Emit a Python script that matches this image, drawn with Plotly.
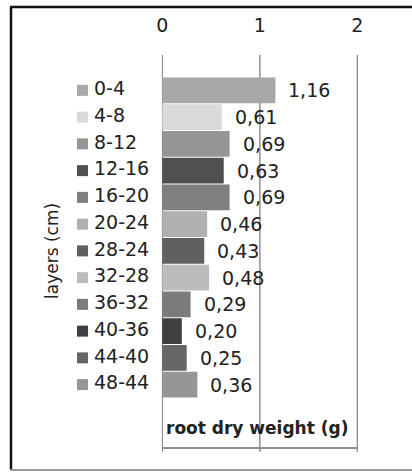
import plotly.graph_objects as go

layers = ["0-4", "4-8", "8-12", "12-16", "16-20", "20-24", "28-24", "32-28",
          "36-32", "40-36", "44-40", "48-44"]
weights = [1.16, 0.61, 0.69, 0.63, 0.69, 0.46, 0.43, 0.48, 0.29, 0.20, 0.25, 0.36]
bar_colors = ["#a8a8a8", "#dadada", "#959595", "#505050", "#7f7f7f", "#b0b0b0",
              "#606060", "#bcbcbc", "#7b7b7b", "#3f3f3f", "#666666", "#969696"]
x_ticks = [0, 1, 2]
x_title = "root dry weight (g)"
y_title = "layers (cm)"

W, H = 412, 472
FONT = "DejaVu Sans"
TXT = "#222222"
GRID = "#8f8f8f"
XR = [-0.006, 2.006]

def px(x):
    return x / W

def py(y):
    return 1 - y / H

fig = go.Figure()

fig.add_trace(go.Bar(
    x=weights, y=layers, orientation="h",
    marker=dict(color=bar_colors, line=dict(width=0)),
    width=0.97, xaxis="x", yaxis="y", showlegend=False, hoverinfo="x+y",
))

# invisible trace so the bottom axis is drawn
fig.add_trace(go.Scatter(
    x=[x_ticks[0]], y=[layers[0]], mode="markers", marker=dict(opacity=0),
    xaxis="x2", yaxis="y", showlegend=False, hoverinfo="skip",
))

# legend-like colored squares and labels
fig.add_trace(go.Scatter(
    x=[82.5] * len(layers), y=layers, mode="markers",
    marker=dict(symbol="square", size=11, color=bar_colors, line=dict(width=0)),
    xaxis="x3", yaxis="y", showlegend=False, hoverinfo="skip",
))
fig.add_trace(go.Scatter(
    x=[94] * len(layers), y=layers, mode="text", text=layers,
    textposition="middle right", textfont=dict(family=FONT, size=19, color=TXT),
    xaxis="x3", yaxis="y", showlegend=False, hoverinfo="skip",
))

# data labels
for lay, v in zip(layers, weights):
    fig.add_annotation(
        x=v, y=lay, xref="x", yref="y", text=f"{v:.2f}".replace(".", ","),
        showarrow=False, xanchor="left", yanchor="middle", xshift=11,
        font=dict(family=FONT, size=19, color=TXT),
    )

# vertical gridlines at the tick values (extend below the bottom axis line)
for t in x_ticks:
    fig.add_shape(type="line", xref="x", yref="paper", x0=t, x1=t,
                  y0=py(452), y1=py(55), layer="below",
                  line=dict(color=GRID, width=1.5))

fig.add_annotation(x=px(256.5), y=py(428), xref="paper", yref="paper",
                   text=f"<b>{x_title}</b>", showarrow=False, yanchor="middle",
                   font=dict(family=FONT, size=17, color=TXT))
fig.add_annotation(x=px(40), y=py(251), xref="paper", yref="paper",
                   text=y_title, textangle=-90, showarrow=False,
                   font=dict(family=FONT, size=17, color=TXT))

# outer frame
fig.add_shape(type="line", xref="paper", yref="paper", x0=px(11), x1=px(11),
              y0=py(470), y1=py(7), line=dict(color="#111111", width=2.5))
fig.add_shape(type="line", xref="paper", yref="paper", x0=px(10), x1=1,
              y0=py(7), y1=py(7), line=dict(color="#111111", width=2.5))
fig.add_shape(type="line", xref="paper", yref="paper", x0=px(10), x1=1,
              y0=py(470), y1=py(470), line=dict(color="#9a9a9a", width=2))

n = len(layers)
fig.update_layout(
    width=W, height=H, autosize=False,
    margin=dict(l=0, r=0, t=0, b=0, pad=0, autoexpand=False),
    paper_bgcolor="white", plot_bgcolor="rgba(0,0,0,0)",
    font=dict(family=FONT, size=19, color=TXT),
    xaxis=dict(domain=[px(161.7), px(358)], range=XR, side="top",
               tickvals=x_ticks, ticktext=[str(t) for t in x_ticks],
               showgrid=False, zeroline=False, showline=False, ticks="",
               ticklabelstandoff=18, anchor="y", automargin=False,
               tickfont=dict(family=FONT, size=19, color=TXT), fixedrange=True),
    xaxis2=dict(overlaying="x", range=XR, side="bottom", anchor="y",
                showline=True, linecolor=GRID, linewidth=1.5,
                ticks="", showticklabels=False, showgrid=False,
                zeroline=False, automargin=False, fixedrange=True),
    xaxis3=dict(domain=[px(60), px(160)], range=[60, 160], anchor="y",
                visible=False, fixedrange=True),
    yaxis=dict(domain=[py(447), py(55)], type="category",
               categoryorder="array", categoryarray=layers,
               range=[n - 0.5 + 1.832, -0.5 - 0.822],
               showticklabels=False, showgrid=False, zeroline=False,
               showline=False, ticks="", fixedrange=True, automargin=False),
)

fig.write_html("out.html")
